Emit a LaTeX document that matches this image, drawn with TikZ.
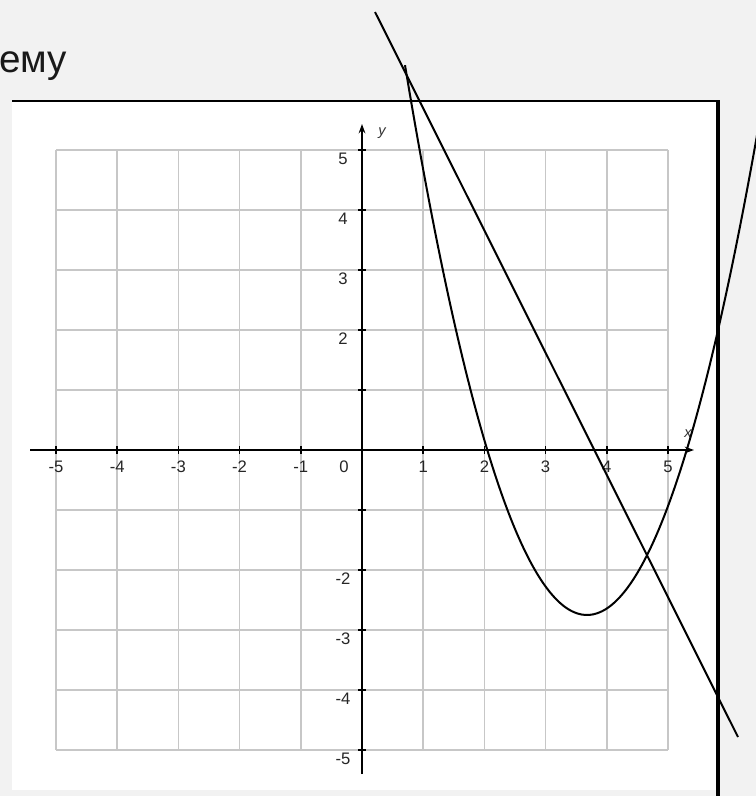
\documentclass[tikz,border=0pt]{standalone}
\usepackage{fontspec}
\setmainfont{Liberation Sans}
\usetikzlibrary{arrows.meta}
\begin{document}
\begin{tikzpicture}[x=0.75pt,y=-0.75pt,
  gridline/.style={draw=black!22, line width=1.1pt},
  axisline/.style={draw=black, line width=1.4pt, -{Stealth[length=7pt,width=5pt]}},
  tickline/.style={draw=black, line width=1.1pt},
  ticklab/.style={font=\fontsize{12.5}{14}\selectfont, text=black!85, inner sep=0pt},
  axlab/.style={font=\itshape\fontsize{11}{12}\selectfont, text=black!80, inner sep=0pt},
  curve/.style={draw=black, line width=1.5pt},
]
\useasboundingbox (0,0) rectangle (756,796);
\fill[black!5] (0,0) rectangle (756,796);
\fill[white] (12,101) rectangle (718,790);

% grid
\foreach \i in {0,...,10} {
  \draw[gridline] ({56+61.2*\i},150) -- ({56+61.2*\i},750);
  \draw[gridline] (56,{150+60*\i}) -- (668,{150+60*\i});
}

% axes
\coordinate (xs) at (30,450);
\coordinate (xe) at (694,450);
\coordinate (ys) at (362,774);
\coordinate (ye) at (362,124);
\draw[axisline] (xs) -- (xe);
\draw[axisline] (ys) -- (ye);

% ticks
\foreach \i in {0,...,10} {
  \draw[tickline] ({56+61.2*\i},446) -- ({56+61.2*\i},454);
  \draw[tickline] (358,{150+60*\i}) -- (366,{150+60*\i});
}

% x labels
\foreach \v/\i in {-5/0,-4/1,-3/2,-2/3,-1/4,1/6,2/7,3/8,4/9,5/10}
  \node[ticklab] (xl\i) at ({56+61.2*\i},467) {\v};
\node[ticklab] (xl0z) at (344,467) {0};

% y labels
\foreach \v/\i in {5/0,4/1,3/2,2/3,-2/7,-3/8,-4/9,-5/10}
  \node[ticklab] (yl\i) at (343,{159+60*\i}) {\v};

\node[axlab] (ylab) at (382,133) {y};
\node[axlab] (xlab) at (688,434) {x};

% frame lines
\draw[line width=1.5pt] (12,101) -- (720,101);
\draw[line width=3pt] (718,100) -- (718,796);

% title fragment
\node[anchor=base west, inner sep=0pt, font=\fontsize{29}{34}\selectfont, text=black!90] (title) at (-1,72) {ему};

% curves
\begin{scope}
\clip (0,0) rectangle (756,796);
\coordinate (la) at (375,12);
\coordinate (lb) at (738,737);
\draw[curve] (la) -- (lb);
\draw[curve] plot[domain=405:762, samples=90, smooth] (\x, {615-1.66*((\x-587)/10)^2});
\end{scope}
\end{tikzpicture}
\end{document}
